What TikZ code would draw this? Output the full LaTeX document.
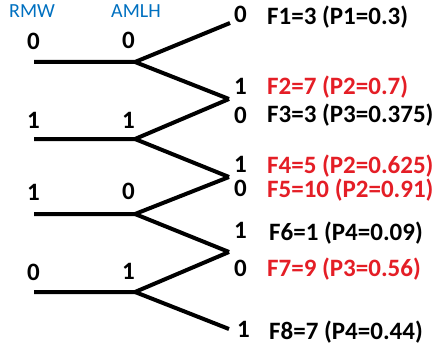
\documentclass[tikz,border=0pt]{standalone}
\usepackage{fontspec}
\setmainfont{Carlito}
\definecolor{hdrblue}{RGB}{0,112,192}
\definecolor{hotred}{RGB}{228,30,38}
\begin{document}
\begin{tikzpicture}[x=1pt,y=-1pt,
  branch/.style={line width=4pt,line cap=butt,line join=miter},
  hdr/.style={anchor=base west,inner sep=0pt,text=hdrblue,font=\fontsize{20}{22}\selectfont},
  bit/.style={anchor=base west,inner sep=0pt,font=\fontsize{25}{28}\selectfont\bfseries},
  res/.style={anchor=base west,inner sep=0pt,font=\fontsize{25}{28}\selectfont\bfseries},
  hot/.style={res,text=hotred}]
\useasboundingbox (0,0) rectangle (435,350);
% points
\coordinate (s1) at (34,62);  \coordinate (k1) at (135,62);
\coordinate (s2) at (34,139); \coordinate (k2) at (135,139);
\coordinate (s3) at (34,214); \coordinate (k3) at (135,214);
\coordinate (s4) at (34,292); \coordinate (k4) at (135,292);
\coordinate (e1) at (230,23);
\coordinate (e2) at (229,99);
\coordinate (e3) at (229,177);
\coordinate (e4) at (229,252);
\coordinate (e5) at (229,329);
% branches
\draw[branch] (s1) -- (k1) -- (e1); \draw[branch] (k1) -- (e2);
\draw[branch] (s2) -- (k2) -- (e2); \draw[branch] (k2) -- (e3);
\draw[branch] (s3) -- (k3) -- (e3); \draw[branch] (k3) -- (e4);
\draw[branch] (s4) -- (k4) -- (e4); \draw[branch] (k4) -- (e5);
% headers
\node[hdr] (rmw) at (9,18) {RMW};
\node[hdr] (amlh) at (111,18) {AMLH};
% left bits
\node[bit] (a1) at (27,50) {0};  \node[bit] (b1) at (122,49) {0};
\node[bit] (a2) at (27,128) {1}; \node[bit] (b2) at (122,128) {1};
\node[bit] (a3) at (27,200) {1}; \node[bit] (b3) at (122,199) {0};
\node[bit] (a4) at (27,280) {0}; \node[bit] (b4) at (122,279) {1};
% right bits
\node[bit] (c1) at (234,23) {0};
\node[bit] (c2) at (234,95) {1};
\node[bit] (c3) at (234,123) {0};
\node[bit] (c4) at (234,172) {1};
\node[bit] (c5) at (234,196) {0};
\node[bit] (c6) at (234,238) {1};
\node[bit] (c7) at (234,276) {0};
\node[bit] (c8) at (237,337) {1};
% results
\node[res] (f1) at (267,25) {F1=3 (P1=0.3)};
\node[hot] (f2) at (267,95) {F2=7 (P2=0.7)};
\node[res] (f3) at (267,122) {F3=3 (P3=0.375)};
\node[hot] (f4) at (267,173) {F4=5 (P2=0.625)};
\node[hot] (f5) at (267,197) {F5=10 (P2=0.91)};
\node[res] (f6) at (269,240) {F6=1 (P4=0.09)};
\node[hot] (f7) at (267,276) {F7=9 (P3=0.56)};
\node[res] (f8) at (269,339) {F8=7 (P4=0.44)};
\end{tikzpicture}
\end{document}
